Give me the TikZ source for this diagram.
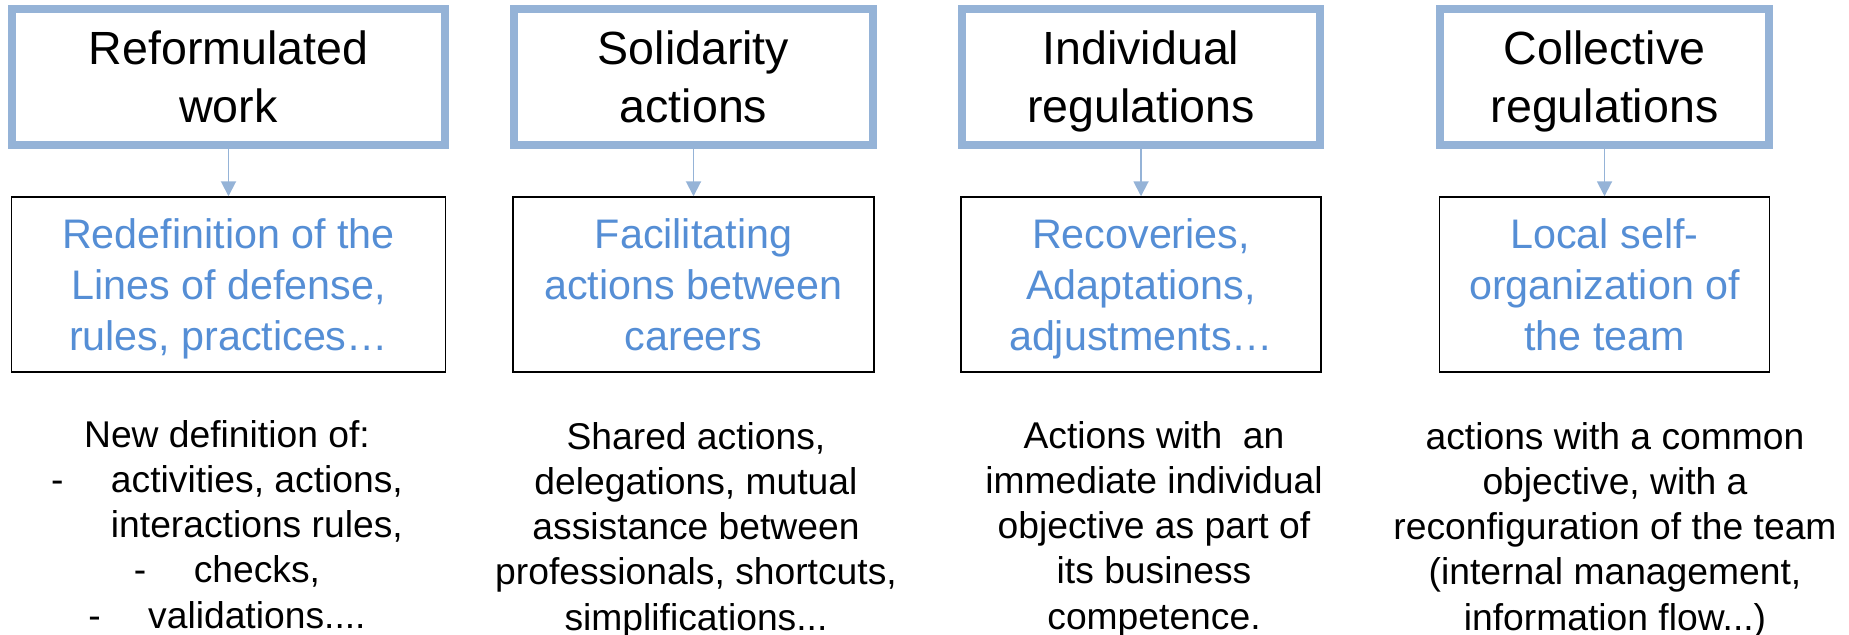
\documentclass[tikz,border=0pt]{standalone}
\usepackage{fontspec}
\setmainfont{Liberation Sans}
\usetikzlibrary{arrows.meta}
\definecolor{lightblue}{RGB}{149,179,215}
\definecolor{textblue}{RGB}{85,142,213}

\begin{document}
\begin{tikzpicture}[
    x=0.02cm, y=-0.02cm,
    title/.style={rectangle, draw=lightblue, line width=4.5pt, inner sep=0pt, align=center, text depth=0pt, minimum height=2.72cm, font=\fontsize{26.5pt}{33pt}\selectfont},
    detail/.style={rectangle, draw=black, line width=0.85pt, inner sep=0pt, align=center, text depth=0pt, minimum height=3.5cm, text=textblue, font=\fontsize{23.5pt}{29pt}\selectfont},
    note/.style={anchor=base, inner sep=0pt, align=center, font=\fontsize{21.2pt}{25.7pt}\selectfont},
    arrow/.style={-{Triangle[width=0.3cm, length=0.3cm]}, draw=lightblue, line width=1.1pt}
]
\useasboundingbox (0,0) rectangle (1849,635);

% Top boxes
\node[title, minimum width=8.66cm] (reform) at (228.5,77) {Reformulated\\work};
\node[title, minimum width=7.18cm] (solid) at (693.5,77) {Solidarity\\actions};
\node[title, minimum width=7.16cm] (indiv) at (1141,77) {Individual\\regulations};
\node[title, minimum width=6.58cm] (collect) at (1604.5,77) {Collective\\regulations};

% Middle boxes
\node[detail, minimum width=8.68cm] (redef) at (228.5,284.5) {Redefinition of the\\Lines of defense,\\rules, practices…};
\node[detail, minimum width=7.22cm] (facil) at (693.5,284.5) {Facilitating\\actions between\\careers};
\node[detail, minimum width=7.2cm] (recov) at (1141,284.5) {Recoveries,\\Adaptations,\\adjustments…};
\node[detail, minimum width=6.6cm] (selforg) at (1604.5,284.5) {Local self-\\organization of\\the team};

% Bottom texts (anchored on the last line)
\node[note] (newdef) at (227,628) {New definition of:\\-\hspace{27pt}activities, actions,\\\hspace*{34pt}interactions rules,\\-\hspace{27pt}checks,\\-\hspace{27pt}validations....};
\node[note] (shared) at (696,630) {Shared actions,\\delegations, mutual\\assistance between\\professionals, shortcuts,\\simplifications...};
\node[note] (immed) at (1154,629) {Actions with\ \ an\\immediate individual\\objective as part of\\its business\\competence.};
\node[note] (common) at (1615,630) {actions with a common\\objective, with a\\reconfiguration of the team\\(internal management,\\information flow...)};

% Connections
\draw[arrow] (reform.south) -- (redef.north);
\draw[arrow] (solid.south) -- (facil.north);
\draw[arrow] (indiv.south) -- (recov.north);
\draw[arrow] (collect.south) -- (selforg.north);

\end{tikzpicture}
\end{document}
